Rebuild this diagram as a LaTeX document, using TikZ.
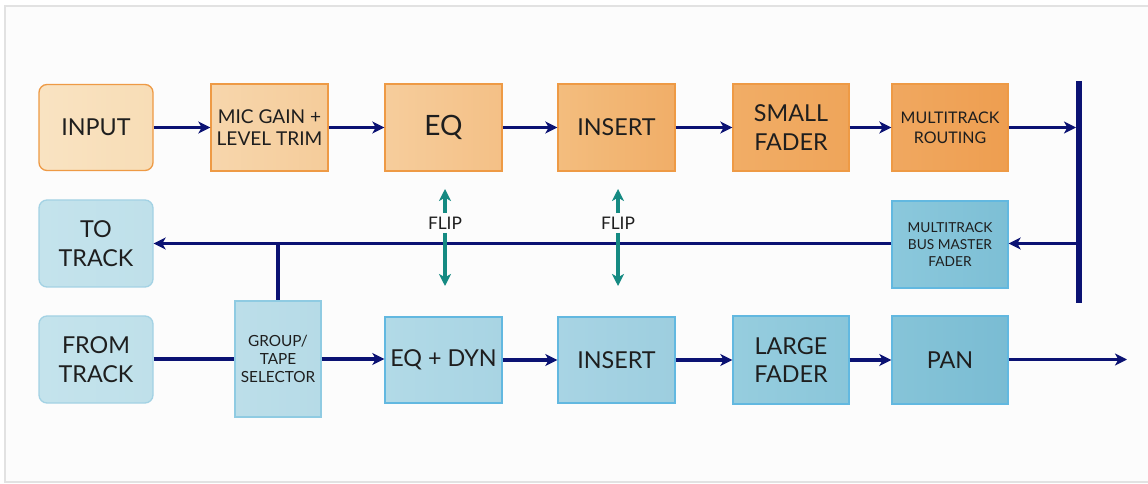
\documentclass[tikz,border=0pt]{standalone}
\usepackage{fontspec}
\setmainfont{Lato}
\usetikzlibrary{arrows.meta}
\definecolor{bgc}{HTML}{FCFCFC}
\definecolor{frame}{HTML}{E2E2E2}
\definecolor{navy}{HTML}{0B1273}
\definecolor{teal2}{HTML}{158A82}
\definecolor{txt}{HTML}{1E1E1E}
\definecolor{obd}{HTML}{EE9A45}
\definecolor{bbd}{HTML}{62B8E0}
\definecolor{lbd}{HTML}{A3D2E4}
\definecolor{gbd}{HTML}{8FCBE2}
\definecolor{oA1}{HTML}{F9E3C2}\definecolor{oA2}{HTML}{F8DDB6}
\definecolor{oB1}{HTML}{F7D6AC}\definecolor{oB2}{HTML}{F5CC9A}
\definecolor{oC1}{HTML}{F6CD9C}\definecolor{oC2}{HTML}{F4C086}
\definecolor{oD1}{HTML}{F3BD7E}\definecolor{oD2}{HTML}{F1AE68}
\definecolor{oE1}{HTML}{F1AD66}\definecolor{oE2}{HTML}{EFA55A}
\definecolor{oF1}{HTML}{F0A860}\definecolor{oF2}{HTML}{EE9E50}
\definecolor{bA1}{HTML}{C4E3EC}\definecolor{bA2}{HTML}{BFE0EA}
\definecolor{bB1}{HTML}{BCDEE9}\definecolor{bB2}{HTML}{B6DBE7}
\definecolor{bC1}{HTML}{B2DAE7}\definecolor{bC2}{HTML}{A8D4E3}
\definecolor{bD1}{HTML}{A8D4E4}\definecolor{bD2}{HTML}{9DCEDF}
\definecolor{bE1}{HTML}{96CDDE}\definecolor{bE2}{HTML}{8AC6DA}
\definecolor{bF1}{HTML}{86C4D8}\definecolor{bF2}{HTML}{7ABCD3}
\definecolor{bG1}{HTML}{8BC8DC}\definecolor{bG2}{HTML}{7DBFD5}
\newcommand\myfs[2]{\fontsize{#1}{#2}\selectfont}
\tikzset{
  box/.style={rectangle, draw, line width=1pt, inner sep=1pt, align=center, text=txt},
  wh/.style 2 args={minimum width=#1*0.75pt, minimum height=#2*0.75pt},
  obox/.style 2 args={box, draw=obd, left color=#1, right color=#2},
  bbox/.style 2 args={box, draw=bbd, left color=#1, right color=#2},
  big/.style={font=\myfs{17.5}{21.5}},
  mid/.style={font=\myfs{14.3}{16.5}},
  small/.style={font=\myfs{12}{15}},
  tiny/.style={font=\myfs{10.3}{13}},
  grp/.style={font=\myfs{11.5}{13.2}},
  arr/.style={draw=navy, line width=2.3pt, -{Stealth[length=9pt,width=9pt,inset=2.5pt]}},
  conn/.style={draw=navy, line width=2.3pt},
  flip/.style={draw=teal2, line width=2.3pt, -{Stealth[length=9pt,width=9pt,inset=2.5pt]}},
  fliplabel/.style={text=txt, font=\myfs{13}{15}, fill=bgc, inner xsep=1pt, inner ysep=2.5pt},
}
\begin{document}
\begin{tikzpicture}[x=0.75pt,y=-0.75pt]
\useasboundingbox (0,0) rectangle (1148,484);
\fill[white] (0,0) rectangle (1148,484);
\draw[frame, fill=bgc, line width=1.6pt] (5,6) rectangle (1160,482);

% top row
\node[obox={oA1}{oA2}, wh={114}{86}, rounded corners=6pt, big] (input) at (96,127.5) {INPUT};
\node[obox={oB1}{oB2}, wh={117}{87}, mid] (mic) at (269.5,127.5) {MIC GAIN +\\LEVEL TRIM};
\node[obox={oC1}{oC2}, wh={117}{87}, font=\myfs{21}{24}] (eq) at (443.5,127.5) {EQ};
\node[obox={oD1}{oD2}, wh={117}{87}, big] (ins1) at (616.5,127.5) {INSERT};
\node[obox={oE1}{oE2}, wh={116}{87}, big] (small) at (791,127.5) {SMALL\\FADER};
\node[obox={oF1}{oF2}, wh={116}{87}, small] (route) at (950,127.5) {MULTITRACK\\ROUTING};

% middle row
\node[bbox={bA1}{bA2}, draw=lbd, wh={114}{87}, rounded corners=6pt, big] (to) at (96,243.5) {TO\\TRACK};
\node[bbox={bG1}{bG2}, wh={116}{87}, tiny] (master) at (950,244.5) {MULTITRACK\\BUS MASTER\\FADER};

% bottom row
\node[bbox={bA1}{bA2}, draw=lbd, wh={114}{87}, rounded corners=6pt, big] (from) at (96,359.5) {FROM\\TRACK};
\node[bbox={bB1}{bB2}, draw=gbd, wh={86}{116}, grp] (group) at (278,359) {GROUP/\\TAPE\\SELECTOR};
\node[bbox={bC1}{bC2}, wh={117}{86}, big] (eqdyn) at (443.5,360) {EQ + DYN};
\node[bbox={bD1}{bD2}, wh={117}{86}, big] (ins2) at (616.5,360) {INSERT};
\node[bbox={bE1}{bE2}, wh={116}{88}, big] (large) at (791,360) {LARGE\\FADER};
\node[bbox={bF1}{bF2}, wh={116}{88}, big] (pan) at (950,360) {PAN};

% bus bar
\coordinate (busT) at (1079,81);
\coordinate (busB) at (1079,303);
\coordinate (busIn) at (1076,127.5);
\coordinate (busOut) at (1079,243.5);
\coordinate (junc) at (278,243.5);
\coordinate (out) at (1127,359.5);
\draw[navy, line width=4.5pt] (busT) -- (busB);

% top connectors
\draw[arr] (input) -- (mic);
\draw[arr] (mic) -- (eq);
\draw[arr] (eq) -- (ins1);
\draw[arr] (ins1) -- (small);
\draw[arr] (small) -- (route);
\draw[arr] (route.east) -- (busIn);

% middle connectors
\draw[arr] (busOut) -- (busOut -| master.east);
\draw[arr] (master.west |- busOut) -- (busOut -| to.east);
\draw[conn] (junc) -- (group.north);

% bottom connectors
\draw[conn] (from.east |- group.west) -- (group.west);
\draw[arr] (group.east) -- (group.east -| eqdyn.west);
\draw[arr] (eqdyn) -- (ins2);
\draw[arr] (ins2) -- (large);
\draw[arr] (large) -- (pan);
\draw[arr] (pan.east |- out) -- (out);

% flip arrows
\node[fliplabel] (flip1) at (445,223) {FLIP};
\node[fliplabel] (flip2) at (618,223) {FLIP};
\coordinate (f1t) at (445,189);
\coordinate (f1b) at (445,286);
\coordinate (f2t) at (618,189);
\coordinate (f2b) at (618,286);
\draw[flip] (flip1) -- (f1t);
\draw[flip] (flip1) -- (f1b);
\draw[flip] (flip2) -- (f2t);
\draw[flip] (flip2) -- (f2b);
\end{tikzpicture}
\end{document}
